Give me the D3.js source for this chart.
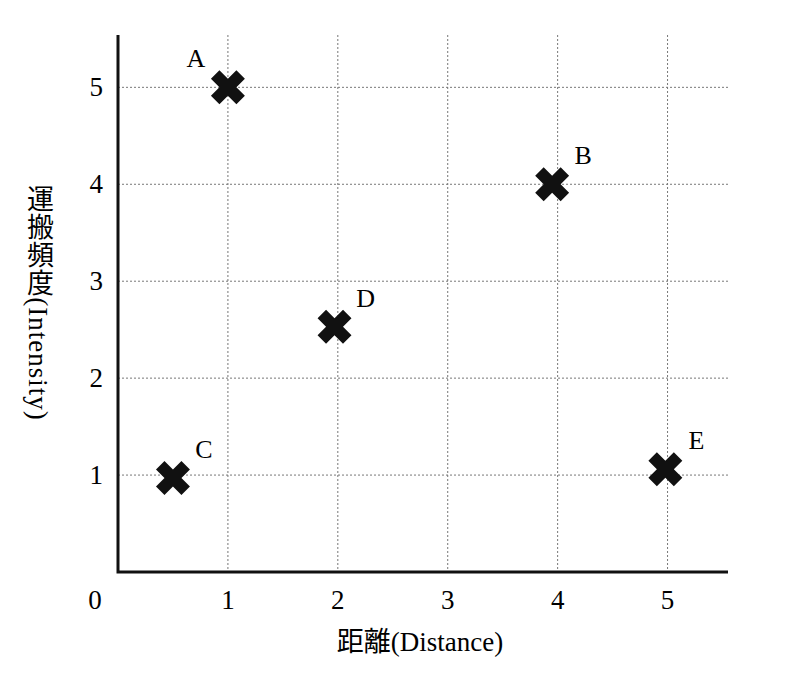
<!DOCTYPE html>
<html><head><meta charset="utf-8">
<script src="https://cdn.jsdelivr.net/npm/d3@7"></script>
<style>body{margin:0;background:#fff}</style>
</head><body>
<svg id="chart" width="794" height="684"></svg>
<script>
// data
var names = ["A", "B", "C", "D", "E"];
var distance = [1, 3.95, 0.5, 1.97, 4.98];
var intensity = [5, 4, 0.97, 2.53, 1.06];
var xTicks = [1, 2, 3, 4, 5];
var yTicks = [1, 2, 3, 4, 5];

var svg = d3.select("#chart");
var font = "'Liberation Serif', 'Noto Sans CJK JP', serif";
var x = d3.scaleLinear().domain([0, 5.55]).range([118, 728]);
var y = d3.scaleLinear().domain([0, 5.54]).range([572, 35]);

// grid
svg.selectAll("line.gx").data(xTicks).enter().append("line")
  .attr("x1", d => x(d)).attr("x2", d => x(d)).attr("y1", y(5.54)).attr("y2", y(0))
  .attr("stroke", "#777").attr("stroke-width", 1).attr("stroke-dasharray", "2,2");
svg.selectAll("line.gy").data(yTicks).enter().append("line")
  .attr("x1", x(0)).attr("x2", x(5.55)).attr("y1", d => y(d)).attr("y2", d => y(d))
  .attr("stroke", "#777").attr("stroke-width", 1).attr("stroke-dasharray", "2,2");

// axes lines
svg.append("path").attr("d", "M" + x(0) + "," + y(5.54) + "V" + y(0) + "H" + x(5.55))
  .attr("fill", "none").attr("stroke", "#111").attr("stroke-width", 3);

// tick labels
svg.selectAll("text.xt").data(xTicks).enter().append("text")
  .attr("x", d => x(d)).attr("y", 609).attr("text-anchor", "middle")
  .attr("font-family", font).attr("font-size", 27).text(d => d);
svg.selectAll("text.yt").data(yTicks).enter().append("text")
  .attr("x", 103).attr("y", d => y(d) + 9).attr("text-anchor", "end")
  .attr("font-family", font).attr("font-size", 27).text(d => d);
svg.append("text").attr("x", 95).attr("y", 609).attr("text-anchor", "middle")
  .attr("font-family", font).attr("font-size", 27).text("0");

// axis titles
svg.append("text").attr("x", 420).attr("y", 651).attr("text-anchor", "middle")
  .attr("font-family", font).attr("font-size", 27).text("距離(Distance)");
svg.append("text").attr("transform", "translate(38,303)")
  .attr("text-anchor", "middle").style("writing-mode", "vertical-rl")
  .style("text-orientation", "mixed").attr("letter-spacing", 1)
  .attr("font-family", font).attr("font-size", 27).text("運搬頻度(Intensity)");

// points
var cross = d3.symbol().type(d3.symbolCross).size(720);
var pts = names.map((n, i) => ({ n: n, x: distance[i], y: intensity[i] }));
svg.selectAll("path.pt").data(pts).enter().append("path")
  .attr("d", cross).attr("fill", "#111")
  .attr("transform", d => "translate(" + x(d.x) + "," + y(d.y) + ") rotate(45)");
svg.selectAll("text.lbl").data(pts).enter().append("text")
  .attr("x", d => x(d.x) + (d.n === "A" ? -32 : 31))
  .attr("y", d => y(d.y) - 20).attr("text-anchor", "middle")
  .attr("font-family", font).attr("font-size", 26).text(d => d.n);
</script>
</body></html>
